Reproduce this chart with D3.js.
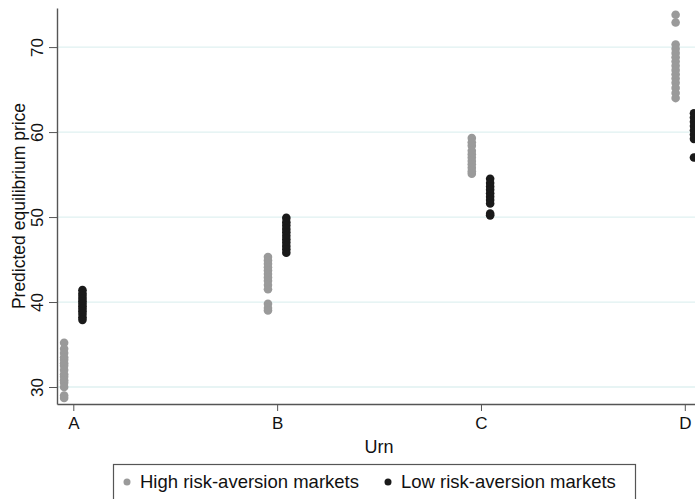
<!DOCTYPE html>
<html><head><meta charset="utf-8">
<script src="https://cdn.jsdelivr.net/npm/d3@7"></script>
<style>body{margin:0;background:#fff}svg{display:block;font-family:"Liberation Sans",Arial,sans-serif}</style>
</head><body><svg id="c" width="695" height="499"></svg>
<script>
const categories = ["A","B","C","D"];
const yTicks = [30,40,50,60,70];
const seriesNames = ["High risk-aversion markets","Low risk-aversion markets"];
const highValues = [
  [35.2,34.5,34.0,33.5,33.2,32.8,32.5,32.0,31.5,31.2,30.8,30.5,30.0,29.0,28.7],
  [45.3,44.9,44.5,44.1,43.7,43.3,42.9,42.5,42.0,41.5,39.8,39.3,39.0],
  [59.3,58.8,58.4,57.8,57.4,57.0,56.6,56.2,55.8,55.4,55.1],
  [73.8,72.9,70.3,69.8,69.3,68.8,68.3,67.8,67.3,66.8,66.3,65.8,65.2,64.6,64.0]
];
const lowValues = [
  [41.4,41.0,40.7,40.4,40.1,39.8,39.5,39.2,38.9,38.6,38.2,37.9],
  [49.9,49.4,49.0,48.6,48.2,47.8,47.4,47.0,46.6,46.2,45.8],
  [54.5,54.0,53.6,53.2,52.8,52.4,52.0,51.6,50.4,50.2],
  [62.2,61.7,61.2,60.7,60.2,59.7,59.2,57.0]
];
const colors = ["#9a9a9a","#1a1a1a"];

const svg = d3.select("#c");
const L = 57, R = 695, T = 8, B = 404;
const x = d3.scaleLinear().domain([0.92, 4.05]).range([L, R]);
const y = d3.scaleLinear().domain([28, 74.6]).range([B, T]);

// gridlines
svg.append("g").selectAll("line").data(yTicks).join("line")
  .attr("x1", L).attr("x2", R).attr("y1", d=>y(d)).attr("y2", d=>y(d))
  .attr("stroke", "#dff1f1").attr("stroke-width", 1.3);

// points
const pts = [];
[highValues, lowValues].forEach((ser, si) => {
  ser.forEach((vals, ci) => vals.forEach(v => pts.push({s: si, c: ci, v})));
});
svg.append("g").selectAll("circle").data(pts).join("circle")
  .attr("cx", d => x(d.c + 1 + (d.s === 0 ? -0.045 : 0.045)))
  .attr("cy", d => y(d.v))
  .attr("r", 4.3)
  .attr("fill", d => colors[d.s]);

// axes
const xAxis = d3.axisBottom(x).tickValues([1,2,3,4]).tickFormat(d => categories[d-1]).tickSize(7).tickPadding(6).tickSizeOuter(0);
const gx = svg.append("g").attr("transform", `translate(0,${B})`).call(xAxis);
gx.select(".domain").attr("stroke", "#555").attr("stroke-width", 1.4);
gx.selectAll(".tick line").attr("stroke", "#555");
gx.selectAll("text").attr("font-size", 17).attr("fill", "#111").attr("font-family", "Liberation Sans, Arial, sans-serif");

const yAxis = d3.axisLeft(y).tickValues(yTicks).tickSize(8).tickPadding(0).tickSizeOuter(0);
const gy = svg.append("g").attr("transform", `translate(${L},0)`).call(yAxis);
gy.select(".domain").attr("stroke", "#555").attr("stroke-width", 1.4);
gy.selectAll(".tick line").attr("stroke", "#555");
gy.selectAll(".tick text").attr("font-size", 17).attr("fill", "#111")
  .attr("font-family", "Liberation Sans, Arial, sans-serif")
  .attr("x", null).attr("dy", null)
  .attr("text-anchor", "middle")
  .attr("transform", "translate(-14,0) rotate(-90)");

// axis titles
svg.append("text").attr("x", (L + R) / 2 + 3).attr("y", 453)
  .attr("text-anchor", "middle").attr("font-size", 18).attr("fill", "#111").text("Urn");
svg.append("text").attr("transform", `translate(25,${(T + B) / 2}) rotate(-90)`)
  .attr("text-anchor", "middle").attr("font-size", 17.5).attr("fill", "#111").text("Predicted equilibrium price");

// legend
const lg = svg.append("g");
lg.append("rect").attr("x", 113.5).attr("y", 464.5).attr("width", 522).attr("height", 40)
  .attr("fill", "#fff").attr("stroke", "#555").attr("stroke-width", 1.2);
const legX = [127, 388];
seriesNames.forEach((n, i) => {
  lg.append("circle").attr("cx", legX[i]).attr("cy", 482).attr("r", 3.5).attr("fill", colors[i]);
  lg.append("text").attr("x", legX[i] + 13).attr("y", 488).attr("font-size", 18.5).attr("fill", "#111").text(n);
});
</script></body></html>
